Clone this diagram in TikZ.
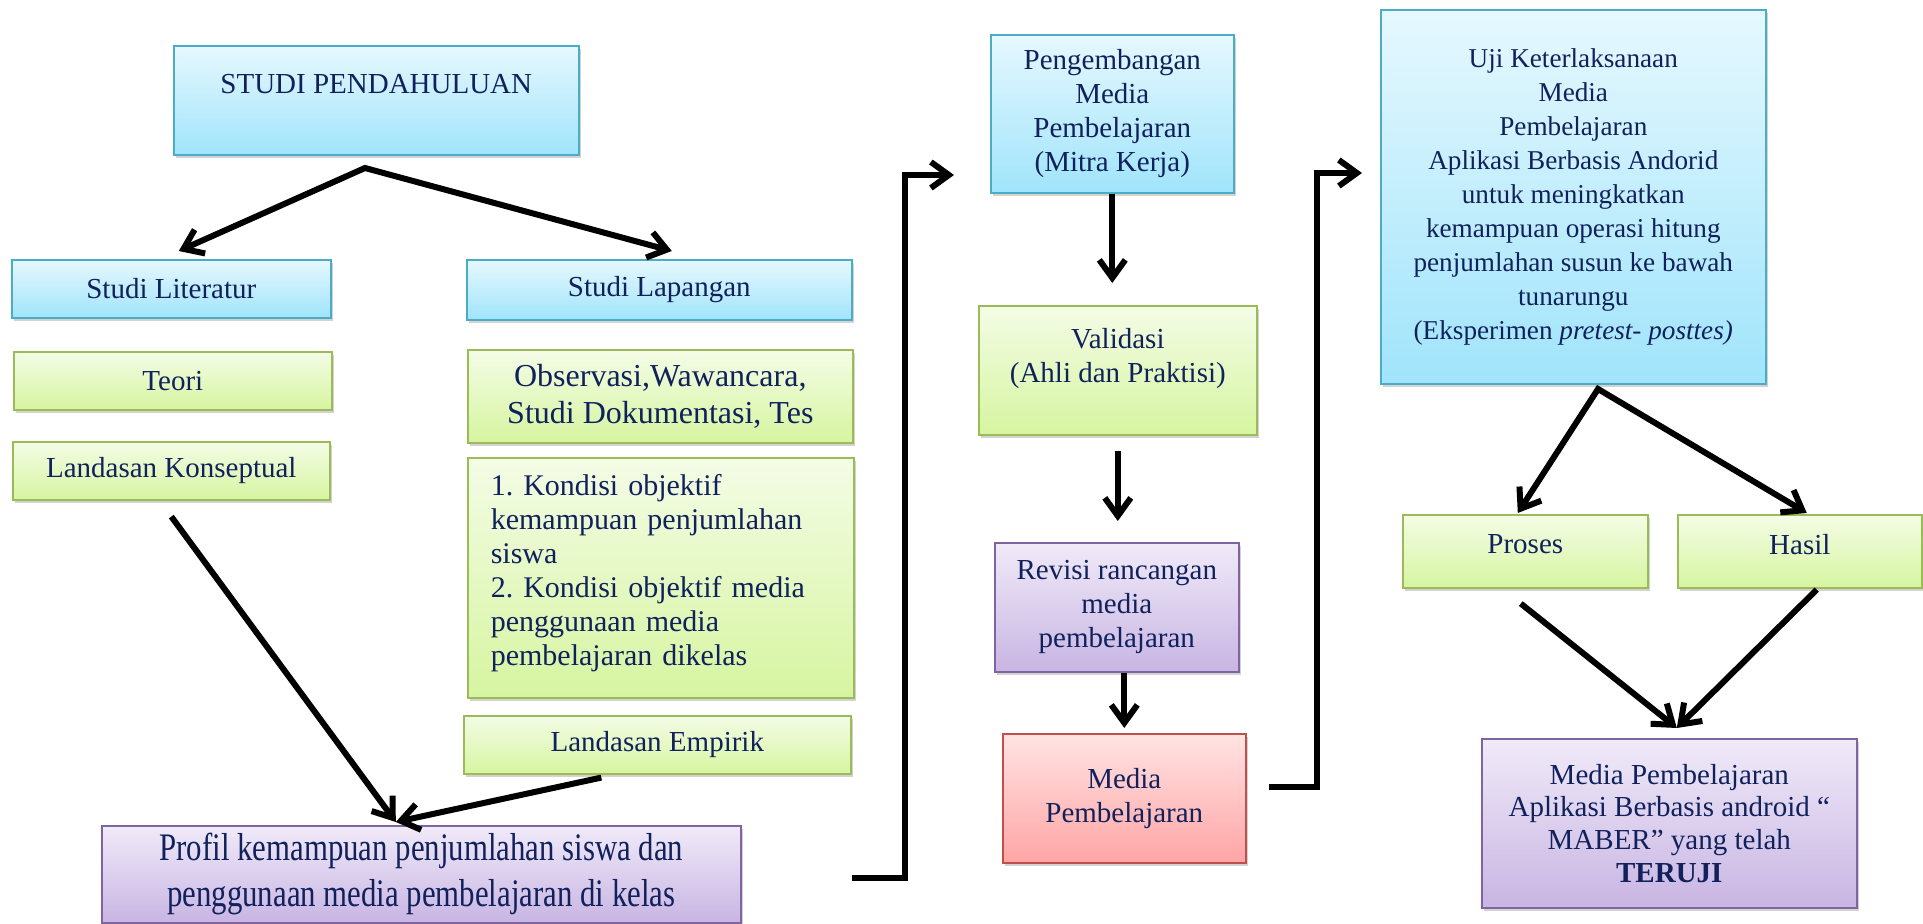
\documentclass[tikz,border=0pt]{standalone}
\usepackage{fontspec}
\setmainfont{Liberation Serif}
\newfontfamily\narrowserif[FakeStretch=0.79]{Liberation Serif}
\usetikzlibrary{arrows.meta,shadows,calc}
\frenchspacing

\definecolor{navytext}{RGB}{16,33,92}
\definecolor{blueedge}{HTML}{4BACC6}
\definecolor{bluetop}{HTML}{E6F8FE}
\definecolor{bluebot}{HTML}{A0E4FB}
\definecolor{greenedge}{HTML}{9BBB59}
\definecolor{greentop}{HTML}{F4FCE6}
\definecolor{greenbot}{HTML}{D6F5A0}
\definecolor{purpleedge}{HTML}{8064A2}
\definecolor{purpletop}{HTML}{F0EAF8}
\definecolor{purplebot}{HTML}{C8B5E3}
\definecolor{rededge}{HTML}{C0504D}
\definecolor{redtop}{HTML}{FFE3E3}
\definecolor{redbot}{HTML}{FFA5A5}

\tikzset{
    box/.style={draw, line width=0.8pt, text=navytext, align=center,
        anchor=north west, inner sep=2pt,
        font=\fontsize{14.5}{17}\selectfont,
        drop shadow={shadow xshift=1pt, shadow yshift=-1.5pt, opacity=0.35}},
    bluebox/.style={box, draw=blueedge, top color=bluetop, bottom color=bluebot},
    greenbox/.style={box, draw=greenedge, top color=greentop, bottom color=greenbot},
    purplebox/.style={box, draw=purpleedge, top color=purpletop, bottom color=purplebot},
    redbox/.style={box, draw=rededge, top color=redtop, bottom color=redbot},
    boxwh/.style 2 args={minimum width=#1*0.5pt, minimum height=#2*0.5pt},
    arr/.style={line width=3pt, -{Straight Barb[length=9pt,width=13pt]}},
    dblarr/.style={line width=3pt,
        {Straight Barb[length=9pt,width=13pt]}-{Straight Barb[length=9pt,width=13pt]}}
}

\begin{document}
\begin{tikzpicture}[x=0.5pt, y=-0.5pt]
\useasboundingbox (0,0) rectangle (1923,924);

% studi pendahuluan
\node[bluebox, boxwh={405}{109}] (studi) at (173,45) {STUDI PENDAHULUAN\\[-1pt]\mbox{}};
\node[bluebox, boxwh={319}{58}] (lit) at (11,259) {Studi Literatur};
\node[greenbox, boxwh={318}{58}] (teori) at (13,351) {Teori};
\node[greenbox, boxwh={317}{58}] (konsep) at (12,441) {Landasan Konseptual};
\node[bluebox, boxwh={385}{60}] (lap) at (466,259) {Studi Lapangan};
\node[greenbox, boxwh={385}{93}, font=\fontsize{16}{18.5}\selectfont] (obs) at (467,349)
    {Observasi,Wawancara,\\Studi Dokumentasi, Tes};
\node[greenbox, boxwh={386}{240}, text width=170pt, align=left,
    font=\fontsize{15}{17}\selectfont] (kondisi) at (467,457)
    {1. Kondisi objektif\\kemampuan penjumlahan\\siswa\\2. Kondisi objektif media\\
     penggunaan media\\pembelajaran dikelas\\[-9pt]\mbox{}};
\node[greenbox, boxwh={387}{58}] (empirik) at (463,715) {Landasan Empirik};
\node[purplebox, boxwh={639}{97}, font=\narrowserif\fontsize{19.5}{23}\selectfont] (profil) at (101,825)
    {Profil kemampuan penjumlahan siswa dan\\penggunaan media pembelajaran di kelas};

% pengembangan
\node[bluebox, boxwh={243}{158}] (peng) at (990,34) {Pengembangan\\Media\\Pembelajaran\\(Mitra Kerja)};
\node[greenbox, boxwh={278}{129}] (valid) at (978,305) {Validasi\\(Ahli dan Praktisi)\\[-2pt]\mbox{}};
\node[purplebox, boxwh={244}{129}] (revisi) at (994,542) {Revisi rancangan\\media\\pembelajaran};
\node[redbox, boxwh={243}{129}] (media) at (1002,733) {Media\\Pembelajaran};

% uji
\node[bluebox, boxwh={385}{374}, font=\fontsize{13.6}{17}\selectfont] (uji) at (1380,9)
    {Uji Keterlaksanaan\\Media\\Pembelajaran\\Aplikasi Berbasis Andorid\\untuk meningkatkan\\
     kemampuan operasi hitung\\penjumlahan susun ke bawah\\tunarungu\\
     (Eksperimen \textit{pretest- posttes)}};
\node[greenbox, boxwh={245}{73}] (proses) at (1402,514) {Proses\\[-10pt]\mbox{}};
\node[greenbox, boxwh={244}{73}] (hasil) at (1677,514) {Hasil\\[-10pt]\mbox{}};
\node[purplebox, boxwh={375}{169}, font=\fontsize{14.5}{16.3}\selectfont] (maber) at (1481,738)
    {Media Pembelajaran\\Aplikasi Berbasis android “\\MABER” yang telah\\\textbf{TERUJI}};

% connectors
\coordinate (fork1) at (365,168);
\coordinate (fork2) at (1598,389);
\coordinate (b1) at (852,878);
\coordinate (c1) at (954,175);
\coordinate (b2) at (1269,787);
\coordinate (c2) at (1362,173);

\draw[dblarr] ([xshift=3.75pt,yshift=4pt]lit.north) -- (fork1) -- ([xshift=6.25pt,yshift=4pt]lap.north);
\draw[arr] ([yshift=-8pt]konsep.south) -- ([xshift=-12.75pt,yshift=1.5pt]profil.north);
\draw[arr] ([xshift=-28pt,yshift=-1.5pt]empirik.south) -- ([xshift=-12.75pt,yshift=1.5pt]profil.north);
\draw[arr] (b1) -- ++(53,0) |- (c1);

\draw[arr, shorten >=11pt] (peng.south) -- (peng.south |- valid.north);
\draw[arr, shorten <=7.5pt, shorten >=10.5pt] (valid.south) -- (valid.south |- revisi.north);
\draw[arr, shorten >=2.5pt] (revisi.south -| media.north) -- (media.north);
\draw[arr] (b2) -- ++(48,0) |- (c2);

\draw[dblarr] ([xshift=-3.75pt,yshift=0.5pt]proses.north) -- (fork2) -- ([xshift=3.5pt,yshift=0.5pt]hasil.north);
\draw[arr] ([xshift=-2.25pt,yshift=-7.5pt]proses.south) -- ([xshift=3.75pt,yshift=5pt]maber.north);
\draw[arr] ([xshift=8.5pt,yshift=-0.5pt]hasil.south) -- ([xshift=3.75pt,yshift=5pt]maber.north);

\end{tikzpicture}
\end{document}
